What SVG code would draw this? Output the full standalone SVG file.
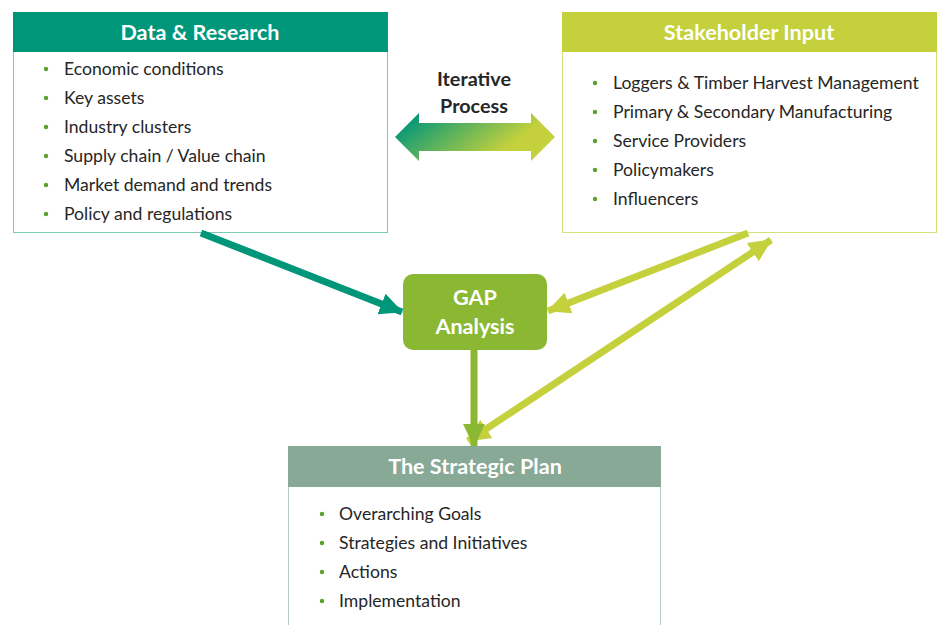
<svg xmlns="http://www.w3.org/2000/svg" width="940" height="625" viewBox="0 0 940 625">
<style>
.item{font-family:Lato,"Open Sans","Liberation Sans",sans-serif;font-size:17.6px;fill:#262626}
.head{font-family:Lato,"Open Sans","Liberation Sans",sans-serif;font-size:21.6px;font-weight:bold;fill:#fff;text-anchor:middle}
.bul{fill:#5aa02c}
.lbl{font-family:Lato,"Open Sans","Liberation Sans",sans-serif;font-size:19.8px;font-weight:bold;fill:#262626;text-anchor:middle}
</style>
<defs>
<linearGradient id="grad" x1="0" y1="0.3" x2="1" y2="0.7">
<stop offset="0" stop-color="#00967a"/>
<stop offset="0.75" stop-color="#c4d13c"/>
<stop offset="1" stop-color="#c4d13c"/>
</linearGradient>
<marker id="mTeal" markerUnits="userSpaceOnUse" markerWidth="24" markerHeight="24" refX="22" refY="12" orient="auto"><path d="M0,1 L23,12 L0,23 Z" fill="#00967a"/></marker>
<marker id="mLime" markerUnits="userSpaceOnUse" markerWidth="24" markerHeight="24" refX="22" refY="12" orient="auto"><path d="M0,1 L23,12 L0,23 Z" fill="#c4d13c"/></marker>
<marker id="mLimeS" markerUnits="userSpaceOnUse" markerWidth="24" markerHeight="24" refX="2" refY="12" orient="auto"><path d="M24,1 L1,12 L24,23 Z" fill="#c4d13c"/></marker>
<marker id="mGreen" markerUnits="userSpaceOnUse" markerWidth="24" markerHeight="24" refX="22" refY="12" orient="auto"><path d="M0,1 L23,12 L0,23 Z" fill="#8bb833"/></marker>
</defs>
<rect width="940" height="625" fill="#fff"/>

<g id="data-research">
<rect x="13.5" y="12.5" width="374" height="220" fill="#fff" stroke="#7ccab6"/>
<rect x="13" y="12" width="375" height="40" fill="#00967a"/>
<text class="head" x="200" y="40">Data &amp; Research</text>
<circle class="bul" cx="46" cy="69" r="2.2"/><text class="item" x="64" y="75">Economic conditions</text>
<circle class="bul" cx="46" cy="98" r="2.2"/><text class="item" x="64" y="104">Key assets</text>
<circle class="bul" cx="46" cy="127" r="2.2"/><text class="item" x="64" y="133">Industry clusters</text>
<circle class="bul" cx="46" cy="156" r="2.2"/><text class="item" x="64" y="162">Supply chain / Value chain</text>
<circle class="bul" cx="46" cy="185" r="2.2"/><text class="item" x="64" y="191">Market demand and trends</text>
<circle class="bul" cx="46" cy="214" r="2.2"/><text class="item" x="64" y="220">Policy and regulations</text>
</g>

<g id="stakeholder-input">
<rect x="562.5" y="12.5" width="374" height="220" fill="#fff" stroke="#d4e07a"/>
<rect x="562" y="12" width="375" height="40" fill="#c4d13c"/>
<text class="head" x="749" y="40">Stakeholder Input</text>
<circle class="bul" cx="595" cy="83" r="2.2"/><text class="item" x="613" y="89">Loggers &amp; Timber Harvest Management</text>
<circle class="bul" cx="595" cy="112" r="2.2"/><text class="item" x="613" y="118">Primary &amp; Secondary Manufacturing</text>
<circle class="bul" cx="595" cy="141" r="2.2"/><text class="item" x="613" y="147">Service Providers</text>
<circle class="bul" cx="595" cy="170" r="2.2"/><text class="item" x="613" y="176">Policymakers</text>
<circle class="bul" cx="595" cy="199" r="2.2"/><text class="item" x="613" y="205">Influencers</text>
</g>

<g id="iterative-process">
<text class="lbl" x="474" y="86">Iterative</text>
<text class="lbl" x="474" y="113">Process</text>
<path d="M395,137 L419,113 L419,123 L531,123 L531,113 L555,137 L531,161 L531,151 L419,151 L419,161 Z" fill="url(#grad)"/>
</g>

<g id="gap-analysis">
<rect x="403" y="274" width="144" height="76" rx="10" fill="#8bb833"/>
<text class="head" x="475" y="305">GAP</text>
<text class="head" x="475" y="334">Analysis</text>
</g>

<g id="strategic-plan">
<rect x="288.5" y="446.5" width="372" height="190" fill="#fff" stroke="#b5cbbd"/>
<rect x="288" y="446" width="373" height="41" fill="#87a995"/>
<text class="head" x="475" y="474">The Strategic Plan</text>
<circle class="bul" cx="322" cy="514" r="2.2"/><text class="item" x="339" y="520">Overarching Goals</text>
<circle class="bul" cx="322" cy="543" r="2.2"/><text class="item" x="339" y="549">Strategies and Initiatives</text>
<circle class="bul" cx="322" cy="572" r="2.2"/><text class="item" x="339" y="578">Actions</text>
<circle class="bul" cx="322" cy="601" r="2.2"/><text class="item" x="339" y="607">Implementation</text>
</g>

<g id="connectors" fill="none" stroke-width="7">
<line x1="201" y1="233" x2="402" y2="312" stroke="#00967a" marker-end="url(#mTeal)"/>
<line x1="748" y1="233" x2="548" y2="311" stroke="#c4d13c" marker-end="url(#mLime)"/>
<line x1="771" y1="240" x2="468" y2="441" stroke="#c4d13c" marker-start="url(#mLimeS)" marker-end="url(#mLime)"/>
<line x1="474" y1="350" x2="474" y2="446" stroke="#8bb833" marker-end="url(#mGreen)"/>
</g>
</svg>
